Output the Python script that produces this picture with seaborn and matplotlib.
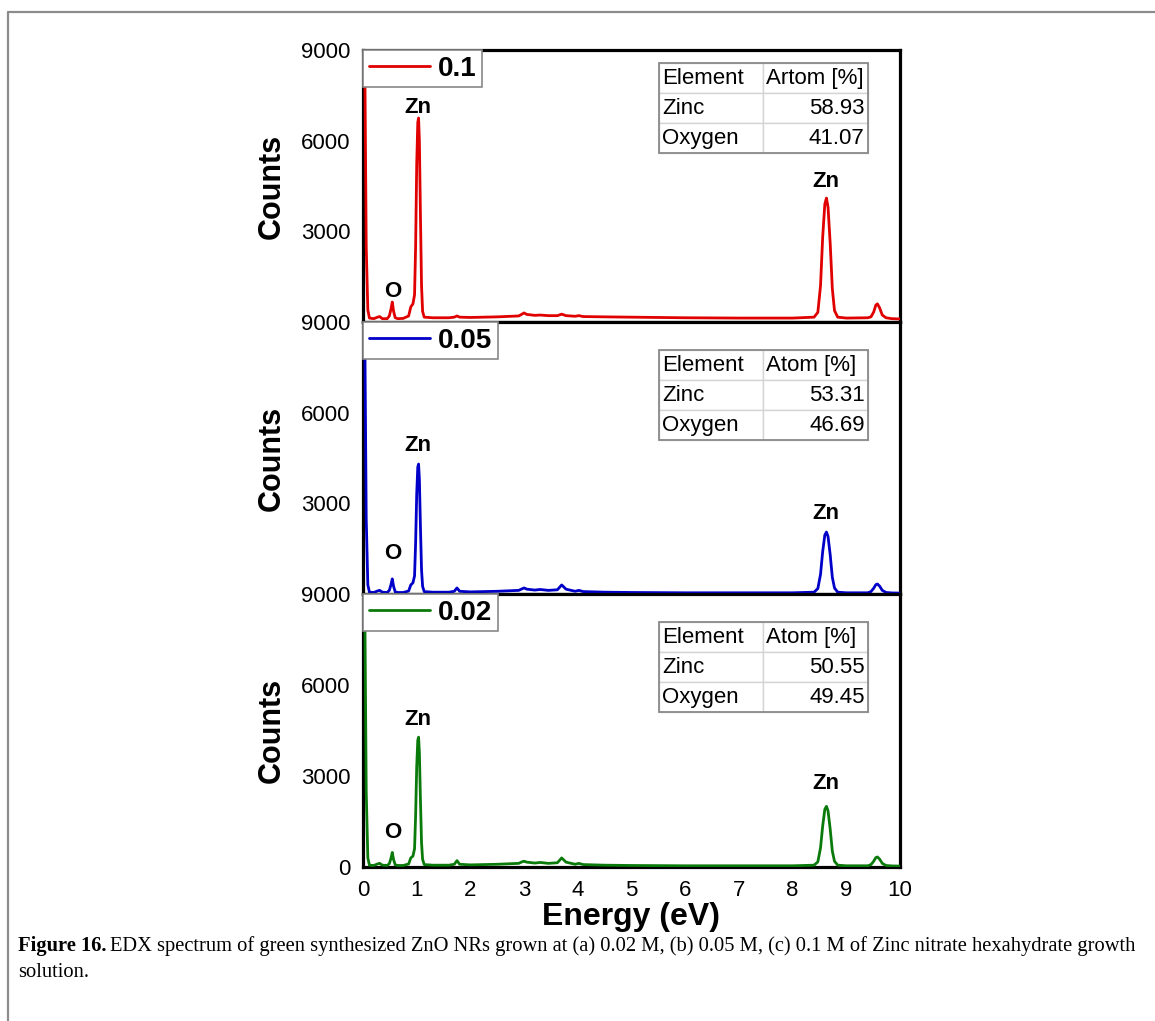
import numpy as np
import pandas as pd
import matplotlib
matplotlib.use("Agg")
import matplotlib.pyplot as plt
import seaborn as sns
from matplotlib.lines import Line2D

# ---------------- data ----------------
energy_01 = [0.0, 0.03, 0.06, 0.09, 0.12, 0.2, 0.27, 0.31, 0.36, 0.45, 0.49, 0.52, 0.545, 0.57, 0.6,
             0.65, 0.75, 0.85, 0.89, 0.93, 0.96, 0.98, 1.0, 1.02, 1.035, 1.05, 1.07, 1.09, 1.11, 1.14,
             1.3, 1.6, 1.7, 1.75, 1.8, 2.0, 2.5, 2.9, 2.96, 3.0, 3.05, 3.2, 3.3, 3.45, 3.62, 3.7, 3.78,
             3.95, 4.02, 4.1, 4.5, 5.0, 6.0, 7.0, 8.0, 8.4, 8.47, 8.52, 8.56, 8.6, 8.63, 8.66, 8.7,
             8.74, 8.78, 8.84, 9.0, 9.4, 9.46, 9.51, 9.55, 9.58, 9.62, 9.67, 9.74, 9.85, 10.0]
counts_01 = [9500, 9500, 2500, 400, 130, 110, 160, 180, 110, 110, 200, 420, 660, 350, 140,
             110, 120, 200, 500, 600, 900, 2500, 5200, 6600, 6750, 6000, 3500, 1200, 350, 160,
             140, 140, 160, 200, 160, 150, 170, 200, 260, 300, 250, 220, 230, 210, 210, 260, 210,
             190, 210, 180, 170, 160, 140, 130, 130, 160, 320, 1200, 2800, 3900, 4100, 3800, 2600,
             1100, 380, 160, 130, 140, 170, 330, 560, 600, 470, 230, 140, 110, 100]

energy_005 = energy_01
counts_005 = [9500, 9500, 2500, 300, 60, 50, 100, 120, 60, 50, 120, 300, 500, 250, 70,
              50, 50, 100, 300, 370, 600, 1700, 3300, 4200, 4300, 3800, 2200, 800, 250, 80,
              60, 60, 90, 200, 90, 70, 90, 120, 170, 200, 160, 130, 150, 120, 140, 300, 160,
              90, 120, 80, 60, 50, 40, 40, 40, 60, 180, 650, 1400, 1950, 2050, 1900, 1300,
              550, 200, 60, 40, 40, 80, 190, 310, 330, 260, 120, 50, 35, 30]

energy_002 = energy_01
counts_002 = [9500, 9500, 2500, 300, 60, 50, 100, 120, 60, 50, 110, 280, 480, 240, 70,
              50, 50, 100, 300, 360, 600, 1700, 3300, 4180, 4280, 3780, 2200, 800, 250, 80,
              60, 60, 90, 210, 90, 70, 90, 120, 170, 190, 160, 130, 150, 120, 140, 300, 160,
              90, 120, 80, 60, 50, 40, 40, 40, 60, 170, 630, 1350, 1900, 2000, 1850, 1250,
              520, 190, 60, 40, 40, 80, 190, 310, 330, 260, 120, 50, 35, 30]

series_labels = ["0.1", "0.05", "0.02"]
series_colors = ["#e00000", "#0000c8", "#0a7a0a"]

table_header = ["Element", "Atom [%]"]
table_header_top = ["Element", "Artom [%]"]
elements = ["Zinc", "Oxygen"]
atom_01 = ["58.93", "41.07"]
atom_005 = ["53.31", "46.69"]
atom_002 = ["50.55", "49.45"]

# annotation positions (energy, counts) per panel
ann_01 = [("O", 0.55, 1000), ("Zn", 1.03, 7100), ("Zn", 8.62, 4650)]
ann_005 = [("O", 0.55, 1350), ("Zn", 1.03, 4900), ("Zn", 8.62, 2650)]
ann_002 = [("O", 0.55, 1150), ("Zn", 1.03, 4850), ("Zn", 8.62, 2750)]

y_ticks = [0, 3000, 6000, 9000]
x_ticks = list(range(0, 11))

# ---------------- figure ----------------
sns.set_style("white")
plt.rcParams["font.family"] = ["Liberation Sans", "DejaVu Sans"]
for k in ["text.color", "axes.labelcolor", "xtick.color", "ytick.color"]:
    plt.rcParams[k] = "black"

W, H = 1155, 1021
fig = plt.figure(figsize=(W / 100, H / 100), dpi=100)

left, right = 363, 900
panel_bounds = [(50, 322), (322, 594), (594, 867)]

datasets = [
    (energy_01, counts_01, atom_01, table_header_top, ann_01, (0.952, 0.621)),
    (energy_005, counts_005, atom_005, table_header, ann_005, (0.897, 0.566)),
    (energy_002, counts_002, atom_002, table_header, ann_002, (0.897, 0.566)),
]

axes = []
for i, ((top_px, bot_px), (en, ct, atom, header, anns, tb)) in enumerate(zip(panel_bounds, datasets)):
    ax = fig.add_axes([left / W, 1 - bot_px / H, (right - left) / W, (bot_px - top_px) / H],
                      sharex=axes[0] if axes else None)
    axes.append(ax)
    df = pd.DataFrame({"Energy": en, "Counts": ct})
    sns.lineplot(data=df, x="Energy", y="Counts", ax=ax, color=series_colors[i],
                 linewidth=2.0, label=series_labels[i], zorder=3)
    ax.set_xlim(0, 10)
    ax.set_ylim(0, 9000)
    ax.set_yticks(y_ticks)
    if i < 2:
        ax.set_yticklabels(["", "3000", "6000", "9000"])
    else:
        ax.set_yticklabels([str(v) for v in y_ticks])
    ax.set_xticks(x_ticks)
    if i < 2:
        ax.tick_params(axis="x", labelbottom=False)
        ax.set_xlabel("")
    else:
        ax.set_xticklabels([str(v) for v in x_ticks])
        ax.set_xlabel("Energy (eV)", fontsize=23, fontweight="bold", labelpad=1)
    ax.tick_params(axis="both", length=0, labelsize=16, pad=9)
    ax.set_ylabel("Counts", fontsize=22, fontweight="bold")
    for sp in ax.spines.values():
        sp.set_visible(True)
        sp.set_color("black")
        sp.set_linewidth(2.3)
    leg = ax.legend(loc="upper left", bbox_to_anchor=(0, 1), borderaxespad=0,
                    frameon=True, fancybox=False, framealpha=1,
                    prop={"size": 20, "weight": "bold"}, handlelength=2.2,
                    handletextpad=0.3, borderpad=0.2)
    leg.get_frame().set_edgecolor("#888888")
    leg.get_frame().set_linewidth(1.2)
    leg.set_zorder(10)
    for t, x, y in anns:
        ax.text(x, y, t, ha="center", va="center", fontsize=16, fontweight="bold", zorder=5)
    # table
    cell_text = [header] + [[e, a] for e, a in zip(elements, atom)]
    tbl = ax.table(cellText=cell_text, bbox=[0.551, tb[1], 0.389, tb[0] - tb[1]],
                   cellLoc="left", edges="closed", zorder=6)
    tbl.auto_set_font_size(False)
    for (r, c), cell in tbl.get_celld().items():
        cell.set_edgecolor("#d4d4d4")
        cell.set_linewidth(1.0)
        cell.set_facecolor("white")
        cell.get_text().set_fontsize(16)
        cell.get_text().set_color("black")
        cell.PAD = 0.03
        if c == 1 and r > 0:
            cell.get_text().set_ha("right")
            cell._loc = "right"
        else:
            cell._loc = "left"
    ax.add_patch(plt.Rectangle((0.551, tb[1]), 0.389, tb[0] - tb[1], transform=ax.transAxes,
                               fill=False, edgecolor="#8a8a8a", linewidth=1.3, zorder=7))

for ax in axes:
    ax.yaxis.set_label_coords(-0.1415, 0.5)

# figure page border (top and left only)
fig.add_artist(Line2D([8 / W, 1], [1 - 12 / H, 1 - 12 / H], transform=fig.transFigure,
                      color="#8c8c8c", linewidth=1.6))
fig.add_artist(Line2D([8 / W, 8 / W], [0, 1 - 12 / H], transform=fig.transFigure,
                      color="#8c8c8c", linewidth=1.6))

# caption
cap_font = ["Liberation Serif", "DejaVu Serif"]
cap_size = 14.75
fig.canvas.draw()
r = fig.canvas.get_renderer()
t1 = fig.text(18 / W, 1 - 946 / H, "Figure 16.", fontsize=cap_size, fontweight="bold",
              family=cap_font, va="center", ha="left")
bb = t1.get_window_extent(renderer=r)
fig.text((bb.x1 + 4) / W, 1 - 946 / H,
         "EDX spectrum of green synthesized ZnO NRs grown at (a) 0.02 M, (b) 0.05 M, (c) 0.1 M of Zinc nitrate hexahydrate growth",
         fontsize=cap_size, family=cap_font, va="center", ha="left")
fig.text(18 / W, 1 - 972 / H, "solution.", fontsize=cap_size, family=cap_font, va="center", ha="left")

fig.savefig("out.png", dpi=100)
